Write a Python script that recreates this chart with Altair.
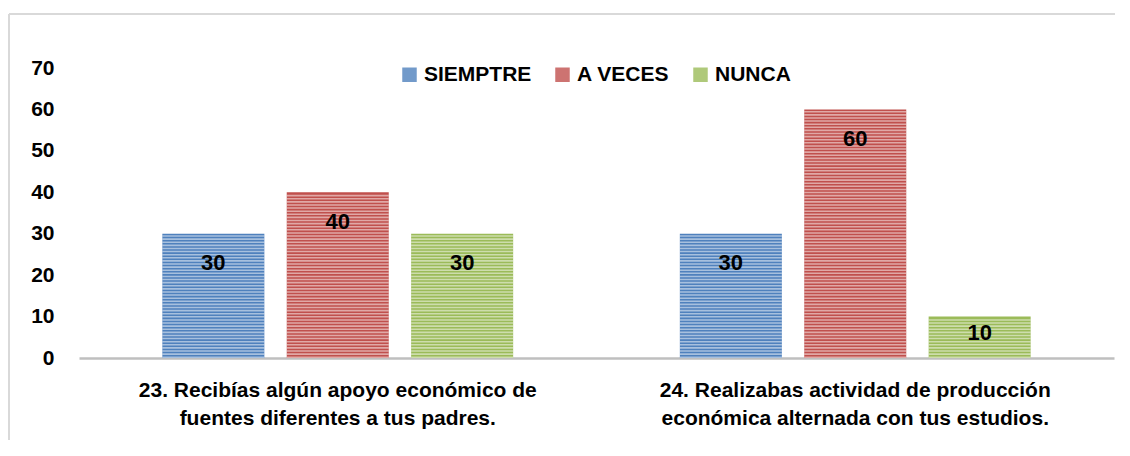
import altair as alt
import pandas as pd

questions = [
    "23. Recibías algún apoyo económico de|fuentes diferentes a tus padres.",
    "24. Realizabas actividad de producción|económica alternada con tus estudios.",
]
series = ["SIEMPTRE", "A VECES", "NUNCA"]
values_q23 = [30, 40, 30]
values_q24 = [30, 60, 10]
colors = ["#4f81bd", "#c0504d", "#9bbb59"]

rows = []
for q, vals in zip(questions, [values_q23, values_q24]):
    for s, v in zip(series, vals):
        rows.append({"pregunta": q, "serie": s, "valor": v})
df = pd.DataFrame(rows)

FONT = "Liberation Sans"

x_enc = alt.X("pregunta:N", sort=questions,
              scale=alt.Scale(paddingInner=0, paddingOuter=0),
              axis=alt.Axis(title=None, labelAngle=0,
                            labelExpr="split(datum.label, '|')",
                            labelFont=FONT, labelFontSize=21, labelFontWeight="bold",
                            labelColor="#000000", labelLineHeight=28, labelLimit=0,
                            labelPadding=21, ticks=False,
                            domainColor="#bfbfbf", domainWidth=2.5))
xo_enc = alt.XOffset("serie:N", sort=series,
                     scale=alt.Scale(paddingInner=0.18, paddingOuter=0.67))
y_scale = alt.Scale(domain=[0, 70], nice=False)
y_axis = alt.Axis(title=None, values=list(range(0, 71, 10)), grid=False,
                  domain=False, ticks=False, labelPadding=25,
                  labelFont=FONT, labelFontSize=21, labelFontWeight="bold",
                  labelColor="#000000")

base = alt.Chart(df)

bars = base.mark_bar().encode(
    x=x_enc,
    xOffset=xo_enc,
    y=alt.Y("valor:Q", scale=y_scale, axis=y_axis),
    color=alt.Color("serie:N", sort=series,
                    scale=alt.Scale(domain=series, range=colors),
                    legend=alt.Legend(title=None, orient="none", direction="horizontal",
                                      legendX=320, legendY=-4,
                                      symbolType="square", symbolSize=210,
                                      symbolStrokeWidth=0, symbolOpacity=0.8,
                                      labelFont=FONT, labelFontSize=21,
                                      labelFontWeight="bold", labelColor="#000000",
                                      labelOffset=4, columnPadding=20)),
)

stripes = base.transform_calculate(
    s="sequence(0, datum.valor - 0.3, 0.75)"
).transform_flatten(["s"]).transform_calculate(
    s2="datum.s + 0.38"
).mark_bar(color="white", opacity=0.5).encode(
    x=x_enc,
    xOffset=xo_enc,
    y=alt.Y("s:Q", scale=y_scale),
    y2="s2:Q",
)

labels = base.transform_calculate(
    ly="max(datum.valor - 7.1, datum.valor * 0.6)"
).mark_text(font=FONT, fontSize=22, fontWeight="bold", color="#000000",
            baseline="middle").encode(
    x=x_enc,
    xOffset=xo_enc,
    y=alt.Y("ly:Q", scale=y_scale),
    text="valor:Q",
)

border_top = alt.Chart(pd.DataFrame({"a": [0]})).mark_rule(
    color="#d9d9d9", strokeWidth=2).encode(
    x=alt.value(-70), x2=alt.value(1036), y=alt.value(-54))
border_left = alt.Chart(pd.DataFrame({"a": [0]})).mark_rule(
    color="#d9d9d9", strokeWidth=2).encode(
    x=alt.value(-70), y=alt.value(-54), y2=alt.value(372))

chart = alt.layer(border_top, border_left, bars, stripes, labels).properties(
    width=1035, height=290,
    padding={"left": 0, "top": 5, "right": 0, "bottom": 0},
).configure(background="white").configure_view(stroke=None, strokeWidth=0)

chart.save("out.html", embed_options={"renderer": "svg", "actions": False})
